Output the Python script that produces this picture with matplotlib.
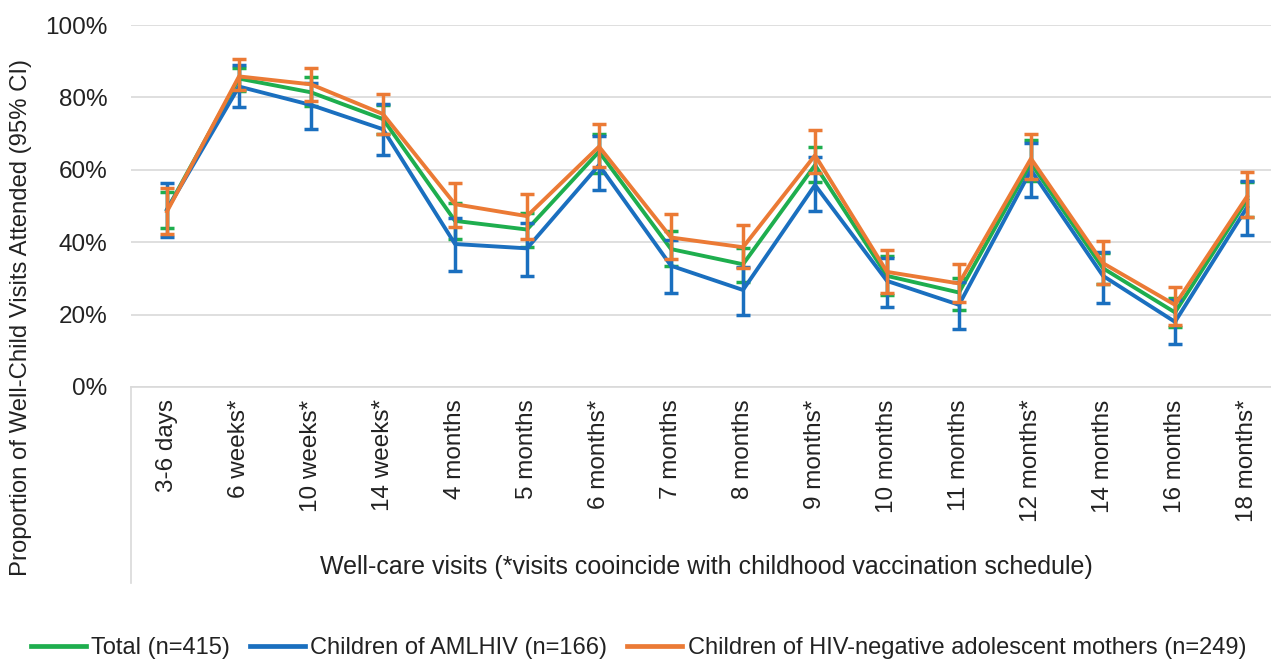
import matplotlib
matplotlib.use("Agg")
import matplotlib.pyplot as plt
from matplotlib.lines import Line2D
import numpy as np

categories = ["3-6 days", "6 weeks*", "10 weeks*", "14 weeks*", "4 months", "5 months",
              "6 months*", "7 months", "8 months", "9 months*", "10 months", "11 months",
              "12 months*", "14 months", "16 months", "18 months*"]

total = [49.0, 85.2, 81.4, 74.0, 45.9, 43.5, 65.0, 38.1, 33.9, 61.3, 30.7, 26.1, 61.8, 32.8, 20.6, 51.7]
total_lo = [43.8, 81.9, 77.5, 70.0, 40.8, 38.6, 59.0, 33.4, 29.1, 56.5, 25.5, 21.4, 57.0, 28.5, 16.7, 47.0]
total_hi = [54.0, 88.2, 85.5, 77.9, 50.7, 48.2, 69.9, 43.0, 38.3, 66.2, 36.2, 30.0, 68.3, 37.0, 24.5, 56.5]

amlhiv = [49.0, 83.0, 77.9, 71.2, 39.5, 38.3, 61.3, 33.5, 26.8, 55.8, 29.3, 22.7, 59.9, 30.7, 18.0, 49.6]
amlhiv_lo = [41.3, 77.4, 71.4, 64.1, 32.0, 30.8, 54.4, 26.1, 19.9, 48.7, 22.2, 16.0, 52.4, 23.3, 12.0, 42.0]
amlhiv_hi = [56.4, 88.9, 84.1, 78.3, 46.8, 45.4, 69.3, 40.6, 33.2, 63.6, 35.5, 29.1, 67.3, 37.4, 24.0, 56.9]

hivneg = [48.5, 85.8, 83.6, 75.4, 50.5, 47.2, 66.4, 41.3, 38.6, 64.0, 31.8, 28.6, 63.1, 34.2, 22.7, 52.6]
hivneg_lo = [42.4, 82.0, 79.0, 69.9, 44.1, 40.8, 60.9, 35.4, 32.8, 59.0, 26.1, 23.5, 57.5, 28.5, 17.0, 47.0]
hivneg_hi = [55.0, 90.6, 88.2, 80.9, 56.4, 53.3, 72.7, 47.7, 44.8, 70.9, 37.8, 33.9, 69.9, 40.3, 27.5, 59.3]

series = [
    ("Total (n=415)", total, total_lo, total_hi, "#1EAE4E"),
    ("Children of AMLHIV (n=166)", amlhiv, amlhiv_lo, amlhiv_hi, "#1A6FBF"),
    ("Children of HIV-negative adolescent mothers (n=249)", hivneg, hivneg_lo, hivneg_hi, "#EB7A35"),
]

plt.rcParams['font.family'] = ['Liberation Sans', 'DejaVu Sans']

fig = plt.figure(figsize=(12.71, 6.60), dpi=100)
ax = fig.add_axes([131 / 1271, 1 - 387 / 660, 1152 / 1271, 362 / 660])

x = np.arange(len(categories))
handles = []
for i, (name, v, lo, hi, col) in enumerate(series):
    v = np.array(v) / 100
    lo = np.array(lo) / 100
    hi = np.array(hi) / 100
    yerr = np.vstack([v - lo, hi - v])
    ax.errorbar(x, v, yerr=yerr, color=col, lw=2.8, elinewidth=2.5,
                capsize=4.8, capthick=2.5, zorder=3 + i)
    handles.append(Line2D([0], [0], color=col, lw=3.4, label=name))

ax.set_xlim(-0.5, len(categories) - 0.5)
ax.set_ylim(0, 1.0)
yt = np.arange(0, 1.01, 0.2)
ax.set_yticks(yt)
ax.set_yticklabels([f"{int(round(t * 100))}%" for t in yt], fontsize=17.5)
ax.set_xticks(x)
ax.set_xticklabels(categories, rotation=90, fontsize=17.5)
ax.tick_params(axis='y', length=0, pad=17, colors='#222222')
ax.tick_params(axis='x', length=0, pad=9, colors='#222222')
ax.grid(axis='y', color='#d9d9d9', lw=1.2)
ax.set_axisbelow(True)
for s in ['top', 'right', 'left']:
    ax.spines[s].set_visible(False)
ax.spines['bottom'].set_color('#d9d9d9')
ax.spines['bottom'].set_linewidth(1.2)

fig.add_artist(Line2D([131 / 1271, 131 / 1271], [1 - 387 / 660, 1 - 583 / 660],
                      color='#d9d9d9', lw=1.2, transform=fig.transFigure))

fig.text(706 / 1271, 1 - 567 / 660,
         "Well-care visits (*visits cooincide with childhood vaccination schedule)",
         ha='center', va='center', fontsize=18, color='#222222')
fig.text(21 / 1271, 1 - 317 / 660, "Proportion of Well-Child Visits Attended (95% CI)",
         ha='center', va='center', rotation=90, fontsize=17.2, color='#222222')

leg = fig.legend(handles=handles, loc='center left', bbox_to_anchor=(31 / 1271, 1 - 648 / 660),
                 ncol=3, frameon=False, fontsize=17, handlelength=2.33, handletextpad=0.22,
                 columnspacing=0.85, borderaxespad=0, borderpad=0)
for t in leg.get_texts():
    t.set_color('#222222')

fig.savefig("out.png", dpi=100)
